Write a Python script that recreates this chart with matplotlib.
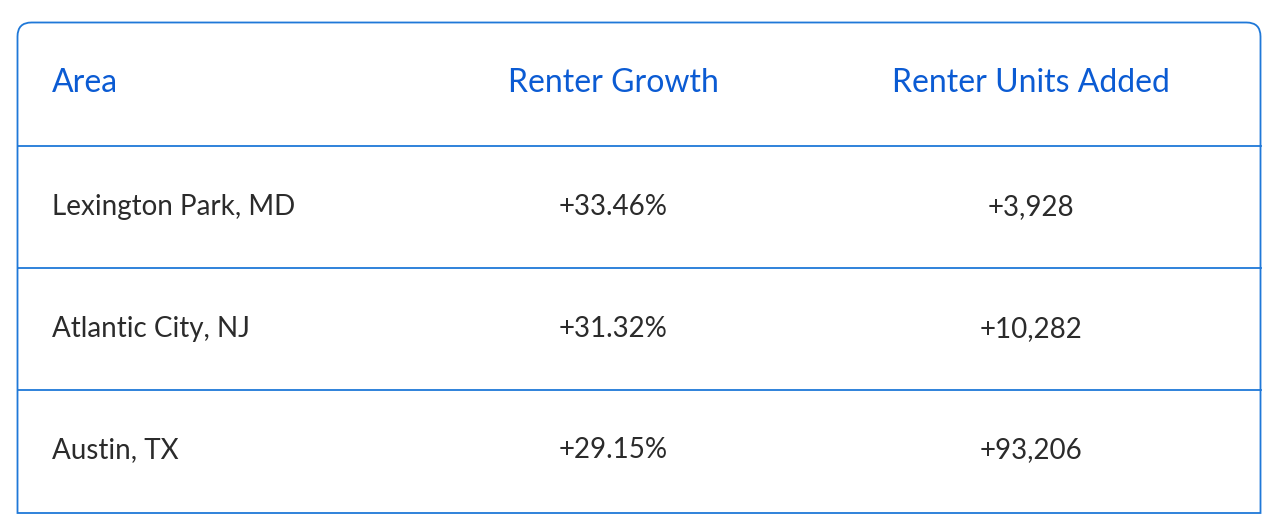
import matplotlib
matplotlib.use("Agg")
import matplotlib.pyplot as plt
from matplotlib.path import Path
from matplotlib.patches import PathPatch

headers = ["Area", "Renter Growth", "Renter Units Added"]
areas = ["Lexington Park, MD", "Atlantic City, NJ", "Austin, TX"]
growth = ["+33.46%", "+31.32%", "+29.15%"]
units = ["+3,928", "+10,282", "+93,206"]

blue_text = "#0b5bd3"
line_col = "#1f78d8"
body_col = "#2b2b2b"
font = ["Lato", "DejaVu Sans"]

fig = plt.figure(figsize=(12.8, 5.3), dpi=100)
ax = fig.add_axes([0, 0, 1, 1])
ax.set_xlim(0, 1280)
ax.set_ylim(530, 0)
ax.axis("off")

L, R, T, B, r = 17.5, 1260.5, 22.5, 513, 14
verts = [(L, B), (L, T + r), (L, T), (L + r, T), (R - r, T), (R, T), (R, T + r), (R, B), (L, B)]
codes = [Path.MOVETO, Path.LINETO, Path.CURVE3, Path.CURVE3, Path.LINETO, Path.CURVE3, Path.CURVE3, Path.LINETO, Path.CLOSEPOLY]
ax.add_patch(PathPatch(Path(verts, codes), fill=False, edgecolor=line_col, lw=1.3))

for y in [146, 268, 390]:
    ax.plot([L, R], [y, y], color=line_col, lw=1.3)

xs = [52, 613, 1031]
has = ["left", "center", "center"]
for x, h, t in zip(xs, has, headers):
    ax.text(x, 83, t, ha=h, va="center", color=blue_text, fontsize=23, family=font)

row_y = [207, 329, 450]
for i, y in enumerate(row_y):
    ax.text(52, y, areas[i], ha="left", va="center", color=body_col, fontsize=20, family=font)
    ax.text(613, y, growth[i], ha="center", va="center", color=body_col, fontsize=20, family=font)
    ax.text(1031, y, units[i], ha="center", va="center", color=body_col, fontsize=20, family=font)

fig.savefig("out.png", dpi=100, facecolor="white")
